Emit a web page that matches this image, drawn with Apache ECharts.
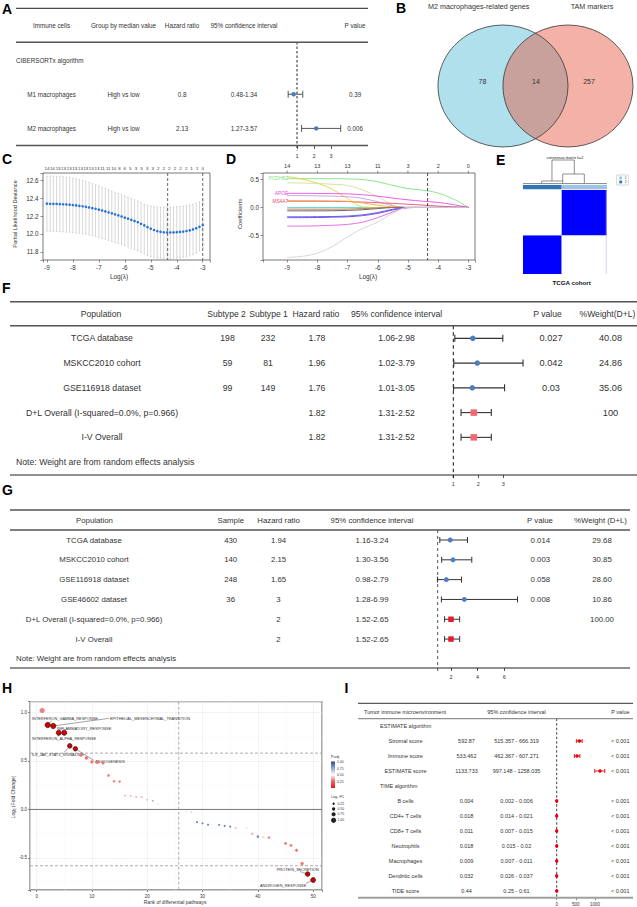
<!DOCTYPE html>
<html>
<head>
<meta charset="utf-8">
<script src="https://cdn.jsdelivr.net/npm/echarts@6.0.0/dist/echarts.min.js"></script>
<style>
html,body{margin:0;padding:0;background:#ffffff;}
#chart{width:637px;height:907px;}
</style>
</head>
<body>
<div id="chart"></div>
<script>
// ======================= DATA =======================
// ---- Panel A ----
const aHeaders = ['Immune cells', 'Group by median value', 'Hazard ratio', '95% confidence interval', 'P value'];
const aSection = 'CIBERSORTx algorithm';
const aCells = ['M1 macrophages', 'M2 macrophages'];
const aGroups = ['High vs low', 'High vs low'];
const aHR = [0.8, 2.13];
const aLow = [0.48, 1.27];
const aHigh = [1.34, 3.57];
const aP = ['0.39', '0.006'];

// ---- Panel B ----
const vennTitles = ['M2 macrophages-related genes', 'TAM markers'];
const vennCounts = [78, 14, 257];

// ---- Panel C ----
const cLogLambda = [-9,-8.875,-8.75,-8.625,-8.5,-8.375,-8.25,-8.125,-8,-7.875,-7.75,-7.625,-7.5,-7.375,-7.25,-7.125,-7,-6.875,-6.75,-6.625,-6.5,-6.375,-6.25,-6.125,-6,-5.875,-5.75,-5.625,-5.5,-5.375,-5.25,-5.125,-5,-4.875,-4.75,-4.625,-4.5,-4.375,-4.25,-4.125,-4,-3.875,-3.75,-3.625,-3.5,-3.375,-3.25,-3.125,-3];
const cMean = [12.338,12.337,12.336,12.335,12.333,12.331,12.329,12.326,12.323,12.319,12.314,12.309,12.303,12.296,12.289,12.281,12.272,12.262,12.252,12.241,12.230,12.219,12.207,12.195,12.183,12.171,12.158,12.145,12.131,12.114,12.096,12.077,12.059,12.044,12.032,12.024,12.019,12.017,12.017,12.018,12.020,12.023,12.027,12.033,12.041,12.051,12.064,12.080,12.100];
const cUpper = [12.645,12.645,12.644,12.643,12.641,12.638,12.634,12.629,12.623,12.616,12.607,12.597,12.586,12.574,12.561,12.548,12.535,12.522,12.508,12.494,12.480,12.466,12.452,12.438,12.424,12.410,12.396,12.381,12.366,12.350,12.334,12.320,12.310,12.304,12.301,12.300,12.300,12.300,12.301,12.302,12.304,12.307,12.311,12.316,12.323,12.332,12.344,12.360,12.385];
const cLower = [12.031,12.030,12.029,12.028,12.026,12.024,12.022,12.019,12.016,12.012,12.008,12.003,11.997,11.990,11.982,11.973,11.963,11.952,11.941,11.929,11.917,11.905,11.893,11.881,11.869,11.856,11.842,11.827,11.811,11.794,11.777,11.761,11.748,11.738,11.732,11.729,11.728,11.728,11.728,11.729,11.731,11.734,11.739,11.746,11.756,11.769,11.786,11.810,11.850];
const cTopLabels = ['14','14','13','13','13','13','13','13','13','13','11','11','10','8','6','5','3','3','3','3','2','2','2','2','2','2','1','1','0'];
const cTopAt = [-9,-8.79,-8.57,-8.36,-8.14,-7.93,-7.71,-7.5,-7.29,-7.07,-6.86,-6.64,-6.43,-6.21,-6,-5.79,-5.57,-5.36,-5.14,-4.93,-4.71,-4.5,-4.29,-4.07,-3.86,-3.64,-3.43,-3.21,-3];
const cCutoffs = [-4.35, -3];

// ---- Panel D ----
const dLogLambda = [-9,-8.5,-8,-7.5,-7,-6.5,-6,-5.5,-5,-4.5,-4,-3.5,-3];
const dCoefs = [
  [0.51,0.51,0.51,0.51,0.505,0.495,0.455,0.39,0.335,0.305,0.255,0.15,0],
  [0.55,0.5,0.43,0.32,0.16,0.01,0,0,0,0,0,0,0],
  [0.435,0.432,0.425,0.41,0.39,0.31,0.19,0.04,0,0,0,0,0],
  [0.25,0.25,0.248,0.245,0.24,0.225,0.2,0.165,0.135,0.11,0.09,0.05,0],
  [0.21,0.21,0.205,0.2,0.19,0.16,0.1,0.03,0,0,0,0,0],
  [0.11,0.11,0.11,0.108,0.104,0.095,0.085,0.072,0.058,0.042,0.025,0.01,0],
  [0.12,0.12,0.118,0.115,0.11,0.08,0.04,0.01,0,0,0,0,0],
  [-0.06,-0.06,-0.06,-0.058,-0.052,-0.04,-0.02,0,0,0,0,0,0],
  [-0.03,-0.03,-0.03,-0.03,-0.028,-0.02,-0.01,0,0,0,0,0,0],
  [-0.165,-0.165,-0.163,-0.16,-0.152,-0.13,-0.09,-0.03,0,0,0,0,0],
  [-0.18,-0.18,-0.178,-0.172,-0.165,-0.145,-0.105,-0.045,-0.005,0,0,0,0],
  [-0.33,-0.33,-0.325,-0.315,-0.3,-0.26,-0.18,-0.08,0,0,0,0,0],
  [-0.885,-0.865,-0.81,-0.69,-0.52,-0.37,-0.26,-0.1,0,0,0,0,0],
  [0,0,0,0,0,0,0,0,0,0,0,0,0]
];
const dTopLabels = ['14','13','13','11','3','2','0'];
const dTopAt = [-9,-8,-7,-6,-5,-4,-3];
const dGeneLabels = ['PCDHB2','APOE','MS4A7'];
const dGeneLabelPath = [0, 3, 5];
const dCutoff = -4.35;

// ---- Panel E ----
const eTitle = 'consensus matrix k=2';
const eClusterSizes = [198, 232];
const eClusterNames = ['1', '2'];
const eCaption = 'TCGA cohort';

// ---- Panel F ----
const fHeaders = ['Population','Subtype 2','Subtype 1','Hazard ratio','95% confidence interval','P value','%Weight(D+L)'];
const fPop = ['TCGA database','MSKCC2010 cohort','GSE116918 dataset','D+L Overall (I-squared=0.0%, p=0.966)','I-V Overall'];
const fSub2 = ['198','59','99','',''];
const fSub1 = ['232','81','149','',''];
const fHR = [1.78,1.96,1.76,1.82,1.82];
const fLow = [1.06,1.02,1.01,1.31,1.31];
const fHigh = [2.98,3.79,3.05,2.52,2.52];
const fP = ['0.027','0.042','0.03','',''];
const fWeight = ['40.08','24.86','35.06','100',''];
const fPooled = [false,false,false,true,true];
const fNote = 'Note: Weight are from random effects analysis';

// ---- Panel G ----
const gHeaders = ['Population','Sample','Hazard ratio','95% confidence interval','P value','%Weight (D+L)'];
const gPop = ['TCGA database','MSKCC2010 cohort','GSE116918 dataset','GSE46602 dataset','D+L Overall (I-squared=0.0%, p=0.966)','I-V Overall'];
const gSample = ['430','140','248','36','',''];
const gHR = [1.94,2.15,1.65,3,2,2];
const gLow = [1.16,1.30,0.98,1.28,1.52,1.52];
const gHigh = [3.24,3.56,2.79,6.99,2.65,2.65];
const gP = ['0.014','0.003','0.058','0.008','',''];
const gWeight = ['29.68','30.85','28.60','10.86','100.00',''];
const gPooled = [false,false,false,false,true,true];
const gNote = 'Note: Weight are from random effects analysis';

// ---- Panel H ----
const hRank = [1,2,3,4,5,6,7,8,9,10,11,12,13,14,15,16,17,18,19,20,21,22,27,28,29,30,31,33,34,35,36,38,39,40,41,42,45,46,47,48,49,50];
const hLFC = [1.02,0.87,0.86,0.79,0.79,0.655,0.625,0.56,0.53,0.49,0.485,0.48,0.35,0.29,0.287,0.143,0.14,0.126,0.126,0.10,0.09,0.058,-0.02,-0.027,-0.13,-0.143,-0.157,-0.16,-0.17,-0.177,-0.19,-0.19,-0.25,-0.28,-0.283,-0.29,-0.35,-0.37,-0.42,-0.556,-0.666,-0.727];
const hPadj = [0.3,0.02,0.02,0.02,0.02,0.02,0.02,0.28,0.28,0.28,0.28,0.28,0.3,0.3,0.3,0.38,0.38,0.38,0.38,0.38,0.72,0.55,0.45,0.62,0.85,0.85,0.85,0.85,0.85,0.85,0.4,0.46,0.36,0.82,0.44,0.3,0.28,0.28,0.28,0.3,0.02,0.02];
const hLabeledRanks = [2,3,4,5,6,7,49,50];
const hLabelNames = ['INTERFERON_GAMMA_RESPONSE','EPITHELIAL_MESENCHYMAL_TRANSITION','INTERFERON_ALPHA_RESPONSE','INFLAMMATORY_RESPONSE','IL6_JAK_STAT3_SIGNALING','ANGIOGENESIS','PROTEIN_SECRETION','ANDROGEN_RESPONSE'];
const hRefY = [0.58, -0.58];
const hRefX = [25.7];
const hLegendPadj = ['1.00','0.75','0.50','0.25'];
const hLegendFC = [0.25, 0.5, 0.75, 1.0];

// ---- Panel I ----
const iHeaders = ['Tumor immune microenvironment','95% confidence interval','P value'];
const iSections = ['ESTIMATE algorithm','TIME algorithm'];
const iSectionRows = [0, 4];
const iNames = ['Stromal score','Immune score','ESTIMATE score','B cells','CD4+ T cells','CD8+ T cells','Neutrophils','Macrophages','Dendritic cells','TIDE score'];
const iRows = [1,2,3,5,6,7,8,9,10,11];
const iEst = [592.87,533.462,1133.733,0.004,0.018,0.011,0.018,0.009,0.032,0.44];
const iLow = [515.357,462.367,997.148,0.002,0.014,0.007,0.015,0.007,0.026,0.25];
const iHigh = [666.319,607.271,1258.035,0.006,0.021,0.015,0.02,0.011,0.037,0.61];
const iP = ['< 0.001','< 0.001','< 0.001','< 0.001','< 0.001','< 0.001','< 0.001','< 0.001','< 0.001','< 0.001'];

// ======================= STYLE / LAYOUT =======================
const FONT = '"Liberation Sans", Arial, Helvetica, sans-serif';
const dColors = ['#7FE27F','#E6D23C','#D6DC9C','#E84CE8','#C79AE8','#E8506E','#F0A848','#555555','#B07040','#3A5CF0','#7A3AE0','#E060E8','#D4D4D4','#4FD2D2'];
const chart = echarts.init(document.getElementById('chart'), null, {renderer: 'svg', width: 637, height: 907});

const grids = [
  {left: 297, top: 42, width: 34, height: 103.5},       // 0 A
  {left: 43, top: 173, width: 167, height: 87, show: true, borderColor: '#555', borderWidth: 0.8}, // 1 C
  {left: 263, top: 173, width: 212, height: 87, show: true, borderColor: '#555', borderWidth: 0.8}, // 2 D
  {left: 523, top: 190, width: 84, height: 84},          // 3 E
  {left: 453.3, top: 325.7, width: 50, height: 149.3},   // 4 F
  {left: 451, top: 530, width: 53.3, height: 138},       // 5 G
  {left: 30, top: 701.7, width: 292, height: 188.3, show: true, borderColor: '#7F7F7F', borderWidth: 1.3}, // 6 H
  {left: 556.7, top: 718.7, width: 38.2, height: 179}    // 7 I
].map(g => Object.assign({containLabel: false, outerBoundsMode: 'none'}, g));

const fmtMult = (step, dec) => v => { const k = v / step; return Math.abs(k - Math.round(k)) < 1e-6 ? v.toFixed(dec) : ''; };
function tick(len) { return {show: true, length: len, lineStyle: {color: '#444', width: 0.6}}; }
function lab(size, margin, fmt) { return {show: true, fontSize: size, margin: margin, color: '#333', fontFamily: FONT, formatter: fmt, hideOverlap: false}; }
function vAx(gi, min, max, extra) { return Object.assign({gridIndex: gi, type: 'value', min: min, max: max, axisLine: {show: false, onZero: false}, splitLine: {show: false}}, extra || {}); }

const xAxis = [
  vAx(0, 1, 3, {interval: 1, axisTick: {show: true, length: 3.5, lineStyle: {color: '#333', width: 0.8}}, axisLabel: lab(5.5, 7, v => String(v))}),
  vAx(1, -9.15, -2.72, {minInterval: 1, maxInterval: 1, axisTick: tick(2.5), axisLabel: lab(6.3, 4.5, fmtMult(1, 0))}),
  vAx(2, -9.8, -2.78, {minInterval: 1, maxInterval: 1, axisTick: tick(2.5), axisLabel: lab(6.3, 4.5, fmtMult(1, 0))}),
  vAx(3, 0, 430, {show: false}),
  vAx(4, 1, 3, {interval: 1, axisTick: {show: true, length: 3, lineStyle: {color: '#222', width: 0.8}}, axisLabel: lab(5.5, 6, v => String(v))}),
  vAx(5, 2, 6, {interval: 2, axisTick: {show: true, length: 3, lineStyle: {color: '#222', width: 0.8}}, axisLabel: lab(5.5, 6, v => String(v))}),
  vAx(6, -1.2, 51.6, {minInterval: 10, maxInterval: 10, axisTick: tick(2), axisLabel: lab(4.5, 3.5, fmtMult(10, 0)),
    splitLine: {show: true, lineStyle: {color: '#EBEBEB', width: 0.6}},
    minorTick: {show: false, splitNumber: 2}, minorSplitLine: {show: true, lineStyle: {color: '#F4F4F4', width: 0.4}}}),
  vAx(7, 0, 1000, {interval: 500, axisTick: {show: true, length: 2.5, lineStyle: {color: '#333', width: 0.6}}, axisLabel: lab(4.5, 4, v => String(v))})
];
const yAxis = [
  vAx(0, -0.53, 2.5, {inverse: true, show: false}),
  vAx(1, 11.71, 12.68, {minInterval: 0.2, maxInterval: 0.2, axisTick: tick(2.5), axisLabel: lab(6.3, 4.5, fmtMult(0.2, 1))}),
  vAx(2, -0.93, 0.61, {minInterval: 0.5, maxInterval: 0.5, axisTick: tick(2.5), axisLabel: lab(6.3, 4, fmtMult(0.5, 1))}),
  vAx(3, 0, 430, {show: false}),
  vAx(4, -0.51, 5.52, {inverse: true, show: false}),
  vAx(5, -0.505, 6.46, {inverse: true, show: false}),
  vAx(6, -0.83, 1.11, {minInterval: 0.5, maxInterval: 0.5, axisTick: tick(2), axisLabel: lab(4.5, 3, fmtMult(0.5, 1)),
    splitLine: {show: true, lineStyle: {color: '#EBEBEB', width: 0.6}},
    minorTick: {show: false, splitNumber: 2}, minorSplitLine: {show: true, lineStyle: {color: '#F4F4F4', width: 0.4}}}),
  vAx(7, -0.49, 11.45, {inverse: true, show: false})
];

// ---------- render helpers ----------
function errRender(cap, color, lw) {
  return function (params, api) {
    const r = api.value(3);
    const a = api.coord([api.value(1), r]);
    const b = api.coord([api.value(2), r]);
    const st = {stroke: color, lineWidth: lw};
    return {type: 'group', children: [
      {type: 'line', shape: {x1: a[0], y1: a[1], x2: b[0], y2: b[1]}, style: st},
      {type: 'line', shape: {x1: a[0], y1: a[1] - cap, x2: a[0], y2: a[1] + cap}, style: st},
      {type: 'line', shape: {x1: b[0], y1: b[1] - cap, x2: b[0], y2: b[1] + cap}, style: st}
    ]};
  };
}
function errRenderV(cap, color, lw) {
  return function (params, api) {
    const x = api.value(0);
    const a = api.coord([x, api.value(1)]);
    const b = api.coord([x, api.value(2)]);
    const st = {stroke: color, lineWidth: lw};
    return {type: 'group', children: [
      {type: 'line', shape: {x1: a[0], y1: a[1], x2: b[0], y2: b[1]}, style: st},
      {type: 'line', shape: {x1: a[0] - cap, y1: a[1], x2: a[0] + cap, y2: a[1]}, style: st},
      {type: 'line', shape: {x1: b[0] - cap, y1: b[1], x2: b[0] + cap, y2: b[1]}, style: st}
    ]};
  };
}
function vlineRender(extraBottom, color, lw, dash) {
  return function (params, api) {
    const cs = params.coordSys;
    const p = api.coord([api.value(0), api.value(1)]);
    return {type: 'line', shape: {x1: p[0], y1: cs.y, x2: p[0], y2: cs.y + cs.height + extraBottom}, style: {stroke: color, lineWidth: lw, lineDash: dash}};
  };
}
function topLabelRender(labels, size, withTick) {
  return function (params, api) {
    const cs = params.coordSys;
    const p = api.coord([api.value(0), api.value(1)]);
    const kids = [{type: 'text', x: p[0], y: cs.y - (withTick ? 4 : 2.5), style: {text: labels[params.dataIndex], fontSize: size, fontFamily: FONT, fill: '#333', align: 'center', verticalAlign: 'bottom'}}];
    if (withTick) kids.push({type: 'line', shape: {x1: p[0], y1: cs.y, x2: p[0], y2: cs.y - 2.5}, style: {stroke: '#444', lineWidth: 0.6}});
    return {type: 'group', children: kids};
  };
}
function forestSeries(gi, est, lo, hi, rows, cap, ecolor, elw) {
  return {type: 'custom', xAxisIndex: gi, yAxisIndex: gi, z: 3, clip: false, renderItem: errRender(cap, ecolor, elw),
    data: est.map((e, i) => [e, lo[i], hi[i], rows[i]])};
}
function pointSeries(gi, pts, symbol, size, color) {
  return {type: 'scatter', xAxisIndex: gi, yAxisIndex: gi, z: 4, clip: false, symbol: symbol, symbolSize: size, itemStyle: {color: color, opacity: 1}, silent: true, data: pts};
}

const series = [];
// ---- A ----
series.push({type: 'custom', xAxisIndex: 0, yAxisIndex: 0, z: 2, renderItem: vlineRender(5, '#111', 0.9, [2.5, 2]), data: [[1, 0]]});
series.push(forestSeries(0, aHR, aLow, aHigh, [1, 2], 3.5, '#444', 0.9));
series.push(pointSeries(0, aHR.map((v, i) => [v, i + 1]), 'circle', 4.5, '#4A7EBB'));
// ---- C ----
series.push({type: 'custom', xAxisIndex: 1, yAxisIndex: 1, z: 2, renderItem: errRenderV(0.8, '#BDBDBD', 0.6),
  data: cLogLambda.map((x, i) => [x, cLower[i], cUpper[i]])});
series.push(pointSeries(1, cLogLambda.map((x, i) => [x, cMean[i]]), 'circle', 2.6, '#2673D4'));
series.push({type: 'custom', xAxisIndex: 1, yAxisIndex: 1, z: 3, renderItem: vlineRender(0, '#444', 0.8, [3, 2]), data: cCutoffs.map(x => [x, 12])});
series.push({type: 'custom', xAxisIndex: 1, yAxisIndex: 1, renderItem: topLabelRender(cTopLabels, 4.4, false), data: cTopAt.map(x => [x, 12])});
// ---- D ----
dCoefs.forEach((path, k) => {
  series.push({type: 'line', xAxisIndex: 2, yAxisIndex: 2, smooth: 0.35, showSymbol: false, symbol: 'none', silent: true,
    lineStyle: {color: dColors[k], width: 0.9}, z: 2 + (k === 13 ? 0 : 1),
    data: dLogLambda.map((x, i) => [x, path[i]])});
});
series.push({type: 'custom', xAxisIndex: 2, yAxisIndex: 2, z: 5, renderItem: vlineRender(0, '#222', 0.8, [3, 2]), data: [[dCutoff, 0]]});
series.push({type: 'custom', xAxisIndex: 2, yAxisIndex: 2, renderItem: topLabelRender(dTopLabels, 5.5, true), data: dTopAt.map(x => [x, 0])});
// ---- E ----
const eBlocks = [];
(function () {
  let cx = 0;
  eClusterSizes.forEach((sx, i) => {
    let cy = 0;
    eClusterSizes.forEach((sy, j) => { eBlocks.push([cx, cx + sx, cy, cy + sy, i === j ? 1 : 0]); cy += sy; });
    cx += sx;
  });
})();
series.push({type: 'custom', xAxisIndex: 3, yAxisIndex: 3, data: eBlocks, renderItem: (params, api) => {
  const p0 = api.coord([api.value(0), api.value(3)]);
  const p1 = api.coord([api.value(1), api.value(2)]);
  return {type: 'rect', shape: {x: p0[0], y: p0[1], width: p1[0] - p0[0], height: p1[1] - p0[1]}, style: {fill: api.value(4) > 0.5 ? '#0000FF' : '#FFFFFF'}};
}});
// ---- F ----
const fRows = fHR.map((v, i) => i);
series.push({type: 'custom', xAxisIndex: 4, yAxisIndex: 4, z: 2, renderItem: vlineRender(3, '#111', 1, [3.5, 3]), data: [[1, 0]]});
series.push(forestSeries(4, fHR, fLow, fHigh, fRows, 3.5, '#333', 1.1));
series.push(pointSeries(4, fHR.map((v, i) => [v, i]).filter((d, i) => !fPooled[i]), 'circle', 5.5, '#4A7EBB'));
series.push(pointSeries(4, fHR.map((v, i) => [v, i]).filter((d, i) => fPooled[i]), 'rect', 6.5, '#F4676F'));
// ---- G ----
const gRows = gHR.map((v, i) => i);
series.push({type: 'custom', xAxisIndex: 5, yAxisIndex: 5, z: 2, renderItem: vlineRender(3, '#555', 1, [3, 3]), data: [[1, 0]]});
series.push(forestSeries(5, gHR, gLow, gHigh, gRows, 3, '#333', 1));
series.push(pointSeries(5, gHR.map((v, i) => [v, i]).filter((d, i) => !gPooled[i]), 'circle', 5, '#4F7FC0'));
series.push(pointSeries(5, gHR.map((v, i) => [v, i]).filter((d, i) => gPooled[i]), 'rect', 5.5, '#E8192C'));
// ---- H ----
series.push({type: 'custom', xAxisIndex: 6, yAxisIndex: 6, z: 1,
  data: hRefY.map(v => [0, v]).concat([[1, 0]]).concat(hRefX.map(v => [2, v])),
  renderItem: (params, api) => {
    const cs = params.coordSys; const kind = api.value(0); const v = api.value(1);
    if (kind === 2) { const p = api.coord([v, 0]); return {type: 'line', shape: {x1: p[0], y1: cs.y, x2: p[0], y2: cs.y + cs.height}, style: {stroke: '#999', lineWidth: 0.8, lineDash: [3, 2]}}; }
    const p = api.coord([0, v]);
    return {type: 'line', shape: {x1: cs.x, y1: p[1], x2: cs.x + cs.width, y2: p[1]}, style: kind === 1 ? {stroke: '#555', lineWidth: 0.8} : {stroke: '#999', lineWidth: 0.8, lineDash: [3, 2]}};
  }});
const hSize = v => 1.5 + 3.6 * Math.abs(v[1]);
const hIdx = series.length;
series.push({type: 'scatter', xAxisIndex: 6, yAxisIndex: 6, z: 3, silent: true, symbolSize: hSize,
  data: hRank.map((r, i) => [r, hLFC[i], hPadj[i]]).filter(d => hLabeledRanks.indexOf(d[0]) < 0),
  itemStyle: {opacity: 1}});
series.push({type: 'scatter', xAxisIndex: 6, yAxisIndex: 6, z: 4, silent: true, symbolSize: v => hSize(v) + 0.8,
  data: hRank.map((r, i) => [r, hLFC[i], hPadj[i]]).filter(d => hLabeledRanks.indexOf(d[0]) >= 0),
  itemStyle: {color: '#D40000', borderColor: '#111', borderWidth: 0.6, opacity: 1}});
// ---- I ----
series.push({type: 'custom', xAxisIndex: 7, yAxisIndex: 7, z: 2, renderItem: vlineRender(1, '#111', 0.8, [2.5, 2]), data: [[0, 0]]});
series.push(forestSeries(7, iEst, iLow, iHigh, iRows, 2, '#E8000B', 0.9));
series.push(pointSeries(7, iEst.map((v, i) => [v, iRows[i]]), 'circle', 3.4, '#E8000B'));

chart.setOption({
  animation: false,
  backgroundColor: '#ffffff',
  textStyle: {fontFamily: FONT},
  grid: grids, xAxis: xAxis, yAxis: yAxis,
  visualMap: [{type: 'continuous', show: false, seriesIndex: [hIdx], dimension: 2, min: 0, max: 1,
    inRange: {color: ['#E41A1C', '#F06060', '#FFFFFF', '#8FA6D4', '#2B4A96']}}],
  series: series
});

// ======================= TEXT / GRAPHIC =======================
const G = [];
function T(x, y, text, size, o) {
  o = o || {};
  G.push({type: 'text', x: x, y: y, z: o.z || 6, silent: true, rotation: o.rot || 0,
    style: {text: String(text), fontSize: size, fontFamily: FONT, fontWeight: o.bold ? 'bold' : 'normal', fill: o.fill || '#333', align: o.align || 'center', verticalAlign: o.va || 'middle'}});
}
function Ln(x1, y1, x2, y2, color, lw, dash, z) {
  G.push({type: 'line', z: z || 6, silent: true, shape: {x1: x1, y1: y1, x2: x2, y2: y2}, style: {stroke: color, lineWidth: lw, lineDash: dash || null}});
}
const rowY = (ax, r) => chart.convertToPixel({yAxisIndex: ax}, r);
const colX = (ax, v) => chart.convertToPixel({xAxisIndex: ax}, v);

// panel letters
[['A', 2, 8.5], ['B', 396, 7.5], ['C', 2, 159], ['D', 226, 159], ['E', 496, 159.5], ['F', 2, 287.5], ['G', 2, 490], ['H', 2, 687.5], ['I', 344.5, 687.5]]
  .forEach(d => T(d[1], d[2], d[0], 14, {bold: true, align: 'left', fill: '#000'}));

// ---- A table ----
Ln(16, 8.3, 368, 8.3, '#222', 1);
Ln(16, 42.3, 368, 42.3, '#555', 1.4);
Ln(16, 145.5, 368, 145.5, '#555', 1.4);
const aCols = [51.5, 123.5, 182, 244, 355];
aHeaders.forEach((h, k) => T(aCols[k], rowY(0, -1), h, 6.3));
T(16, rowY(0, 0), aSection, 6.3, {align: 'left'});
aCells.forEach((c, i) => {
  const y = rowY(0, i + 1);
  [c, aGroups[i], String(aHR[i]), aLow[i].toFixed(2) + '-' + aHigh[i].toFixed(2), aP[i]].forEach((t, k) => T(aCols[k], y, t, 6.3));
});

// ---- B venn ----
G.push({type: 'circle', x: 503, y: 86, scaleY: 61 / 65, z: 3, silent: true, shape: {cx: 0, cy: 0, r: 65}, style: {fill: '#B0E0EB', stroke: 'none'}});
G.push({type: 'circle', x: 568, y: 86, scaleY: 61 / 65, z: 4, silent: true, shape: {cx: 0, cy: 0, r: 65}, style: {fill: 'rgba(230,77,54,0.44)', stroke: 'none'}});
G.push({type: 'circle', x: 503, y: 86, scaleY: 61 / 65, z: 5, silent: true, shape: {cx: 0, cy: 0, r: 65}, style: {fill: 'none', stroke: '#333', lineWidth: 0.8}});
G.push({type: 'circle', x: 568, y: 86, scaleY: 61 / 65, z: 5, silent: true, shape: {cx: 0, cy: 0, r: 65}, style: {fill: 'none', stroke: '#333', lineWidth: 0.8}});
T(478.7, 6.8, vennTitles[0], 7.2);
T(592, 6.8, vennTitles[1], 7.2);
[482.5, 536, 589].forEach((x, k) => T(x, 81.7, vennCounts[k], 7));

// ---- C / D axis titles ----
T(15, 214, 'Partial Likelihood Deviance', 5.6, {rot: Math.PI / 2});
T(119, 276, 'Log(λ)', 6.4);
T(240, 214, 'Coefficients', 5.8, {rot: Math.PI / 2});
T(368, 276, 'Log(λ)', 6.4);
dGeneLabels.forEach((name, k) => {
  const p = chart.convertToPixel({gridIndex: 2}, [dLogLambda[0], dCoefs[dGeneLabelPath[k]][0]]);
  T(p[0] + 1, p[1], name, 4.8, {align: 'right', fill: dColors[dGeneLabelPath[k]], z: 8});
});

// ---- E ----
const eX = [colX(3, 0)];
eClusterSizes.reduce((acc, s) => { acc += s; eX.push(colX(3, acc)); return acc; }, 0);
const eBarColors = ['#2E75B6', '#9DC3E6'];
eClusterSizes.forEach((s, k) => G.push({type: 'rect', z: 5, silent: true, shape: {x: eX[k], y: 185, width: eX[k + 1] - eX[k], height: 4.3}, style: {fill: eBarColors[k]}}));
const eL = eX[0], eW = eX[eX.length - 1] - eX[0];
const ef = f => eL + f * eW;
Ln(ef(0.345), 160, ef(0.611), 160, '#444', 0.6);
Ln(ef(0.345), 160, ef(0.345), 181, '#444', 0.6);
Ln(ef(0.611), 160, ef(0.611), 174, '#444', 0.6);
Ln(ef(0.223), 181, ef(0.473), 181, '#444', 0.6);
Ln(ef(0.473), 174, ef(0.73), 174, '#444', 0.6);
Ln(ef(0.223), 181, ef(0.223), 183.5, '#444', 0.6);
Ln(ef(0.473), 174, ef(0.473), 183.5, '#444', 0.6);
Ln(ef(0.73), 174, ef(0.73), 183.5, '#444', 0.6);
Ln(eL, 183.6, eL + eW, 183.6, '#666', 0.8);
Ln(eL + eW - 0.7, 190, eL + eW - 0.7, 274, '#C8C8F0', 0.8);
T(565, 157.5, eTitle, 3.8, {fill: '#222'});
G.push({type: 'rect', z: 5, silent: true, shape: {x: 616.7, y: 175, width: 11.6, height: 10}, style: {fill: '#fff', stroke: '#AAAAAA', lineWidth: 0.5}});
eClusterNames.forEach((n, k) => {
  G.push({type: 'rect', z: 6, silent: true, shape: {x: 619.3, y: 176.6 + k * 4, width: 2.8, height: 2.8}, style: {fill: eBarColors[1 - k]}});
  T(624.8, 178 + k * 4, n, 3.2, {align: 'left'});
});
T(571.7, 282.5, eCaption, 6.2, {bold: true, fill: '#111'});

// ---- F table ----
Ln(10, 301.7, 637, 301.7, '#555', 1.5);
Ln(10, 325.7, 637, 325.7, '#555', 1.5);
Ln(10, 475, 637, 475, '#222', 1);
const fHeadX = [101, 226.5, 268.5, 316, 396.5, 547.5, 607.5];
const fColX = [102, 227.5, 268, 317, 396.5, 551, 610.5];
fHeaders.forEach((h, k) => T(fHeadX[k], rowY(4, -1), h, 8.6));
fPop.forEach((p, i) => {
  const y = rowY(4, i);
  [p, fSub2[i], fSub1[i], String(fHR[i]), fLow[i].toFixed(2) + '-' + fHigh[i].toFixed(2), fP[i], fWeight[i]].forEach((t, k) => { if (t) T(fColX[k], y, t, k >= 5 ? 9.2 : 8.7); });
});
T(16, rowY(4, 5), fNote, 8.7, {align: 'left'});

// ---- G table ----
Ln(10, 510, 630, 510, '#555', 1.4);
Ln(10, 530, 630, 530, '#555', 1.4);
Ln(10, 668, 630, 668, '#222', 1);
const gHeadX = [94.5, 230.8, 278.5, 372, 540, 600.5];
const gColX = [94, 230.7, 278.5, 372, 540.3, 602];
gHeaders.forEach((h, k) => T(gHeadX[k], rowY(5, -1), h, 7.8));
gPop.forEach((p, i) => {
  const y = rowY(5, i);
  [p, gSample[i], String(gHR[i]), gLow[i].toFixed(2) + '-' + gHigh[i].toFixed(2), gP[i], gWeight[i]].forEach((t, k) => { if (t) T(gColX[k], y, t, 7.8); });
});
T(16, rowY(5, 6), gNote, 7.8, {align: 'left'});

// ---- H annotations ----
T(13, 797, 'Log₂ (Fold Change)', 4.9, {rot: Math.PI / 2});
T(175, 902, 'Rank of differential pathways', 4.9);
const hLabelPos = [
  [32, 718.3, 52, 720.5], [110, 718.3, 109, 718.3], [32, 738.7, 58, 736.5], [57, 728, 62, 730],
  [32, 754, 64, 752.5], [95, 761, 94, 760.5], [276.7, 869.3, 300, 871.5], [260, 885.3, 306, 883.5]
];
hLabeledRanks.forEach((r, k) => {
  const idx = hRank.indexOf(r);
  const p = chart.convertToPixel({gridIndex: 6}, [r, hLFC[idx]]);
  const L = hLabelPos[k];
  Ln(p[0], p[1], L[2], L[3], '#333', 0.45, null, 1);
  T(L[0], L[1], hLabelNames[k], 3.9, {align: 'left', z: 1, fill: '#333'});
});
// legend
T(331, 757, 'P.adj', 3.8, {align: 'left'});
G.push({type: 'rect', z: 5, silent: true, shape: {x: 331, y: 761.5, width: 4, height: 26.5},
  style: {fill: {type: 'linear', x: 0, y: 0, x2: 0, y2: 1, colorStops: [
    {offset: 0, color: '#2B4A96'}, {offset: 0.25, color: '#8FA6D4'}, {offset: 0.5, color: '#FFFFFF'}, {offset: 0.75, color: '#F06060'}, {offset: 1, color: '#E41A1C'}]}}});
hLegendPadj.forEach((t, k) => T(337, 762 + k * 6.6, t, 3.4, {align: 'left'}));
T(331, 796.7, 'Log₂ FC', 3.6, {align: 'left'});
hLegendFC.forEach((v, k) => {
  const y = [803.7, 809, 814.3, 820.3][k];
  G.push({type: 'circle', z: 5, silent: true, shape: {cx: 333.6, cy: y, r: hSize([0, v]) / 2}, style: {fill: '#222'}});
  T(337.5, y, v.toFixed(2), 3.4, {align: 'left'});
});

// ---- I table ----
Ln(358, 703.3, 633, 703.3, '#333', 1);
Ln(358, 718.7, 633, 718.7, '#777', 1);
Ln(358, 897.7, 633, 897.7, '#A0A0A0', 2);
T(364, rowY(7, -0.95), iHeaders[0], 5.5, {align: 'left'});
T(516.5, rowY(7, -0.95), iHeaders[1], 5.5);
T(629.5, rowY(7, -0.95), iHeaders[2], 5.5, {align: 'right'});
iSections.forEach((s, k) => T(380, rowY(7, iSectionRows[k]), s, 5.5, {align: 'left'}));
iNames.forEach((n, i) => {
  const y = rowY(7, iRows[i]);
  T(405.5, y, n, 5.5);
  T(466.5, y, String(iEst[i]), 5.5);
  T(516.5, y, String(iLow[i]) + ' - ' + String(iHigh[i]), 5.5);
  T(629.5, y, iP[i], 5.5, {align: 'right'});
});

chart.setOption({graphic: {elements: G}});
</script>
</body>
</html>
